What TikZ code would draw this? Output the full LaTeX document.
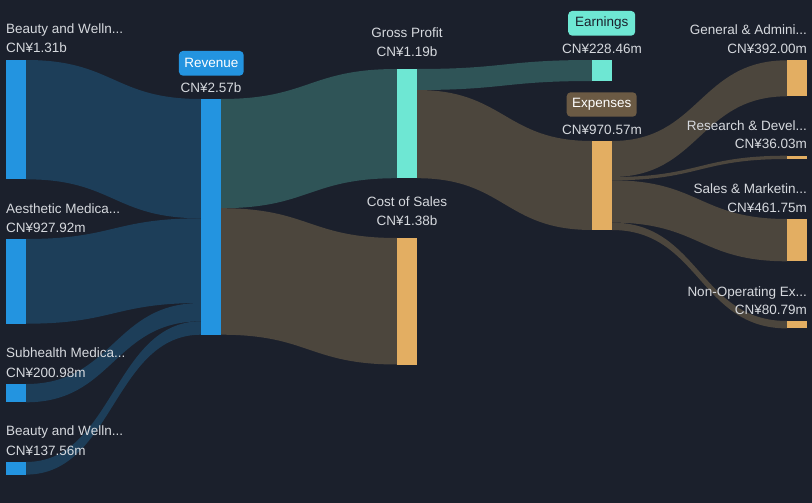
\documentclass[tikz,border=0pt]{standalone}
\usepackage{fontspec}
\setmainfont{Liberation Sans}
\usetikzlibrary{calc}
\definecolor{bg}{HTML}{1B202C}
\definecolor{flowblue}{HTML}{1D3E59}
\definecolor{barblue}{HTML}{2394E0}
\definecolor{flowteal}{HTML}{2F5457}
\definecolor{flowbrown}{HTML}{4C463D}
\definecolor{barteal}{HTML}{6EE7D3}
\definecolor{barorange}{HTML}{E3AE62}
\definecolor{expbox}{HTML}{6B5A44}
\definecolor{txt}{HTML}{D6D9DE}
\newcommand\band[5]{%
 \fill[#5] let \p1=#1, \p2=#2, \p3=#3, \p4=#4 in
 (\p1) .. controls ({(\x1+\x3)/2},\y1) and ({(\x1+\x3)/2},\y3) .. (\p3)
 -- (\p4) .. controls ({(\x1+\x3)/2},\y4) and ({(\x1+\x3)/2},\y2) .. (\p2) -- cycle;}
\begin{document}
\begin{tikzpicture}[x=1pt,y=-1pt,
  bar/.style={rectangle,draw=none,inner sep=0pt,outer sep=0pt,minimum width=20pt,anchor=north west},
  lbl/.style={text=txt,inner sep=0pt,font=\fontsize{13.5}{16}\selectfont},
  tag/.style={rectangle,rounded corners=4pt,inner sep=0pt,font=\fontsize{13.5}{16}\selectfont}]
\fill[bg] (0,0) rectangle (812,503);
\useasboundingbox (0,0) rectangle (812,503);
% bars
\node[bar,fill=barblue,minimum height=119.3pt] (b1) at (6,60) {};
\node[bar,fill=barblue,minimum height=84.7pt] (b2) at (6,239) {};
\node[bar,fill=barblue,minimum height=18.3pt] (b3) at (6,384) {};
\node[bar,fill=barblue,minimum height=12.6pt] (b4) at (6,462) {};
\node[bar,fill=barblue,minimum height=235.7pt] (rev) at (201,99) {};
\node[bar,fill=barteal,minimum height=109.2pt] (gp) at (397,69) {};
\node[bar,fill=barorange,minimum height=126.5pt] (cos) at (397,238) {};
\node[bar,fill=barteal,minimum height=21pt] (earn) at (592,60) {};
\node[bar,fill=barorange,minimum height=89pt] (exp) at (592,141) {};
\node[bar,fill=barorange,minimum height=36pt] (ga) at (787,60.3) {};
\node[bar,fill=barorange,minimum height=3.3pt] (rd) at (787,155.7) {};
\node[bar,fill=barorange,minimum height=42.3pt] (sm) at (787,219) {};
\node[bar,fill=barorange,minimum height=7.4pt] (no) at (787,321) {};
% flows
\begin{scope}[on background layer/.try]
\band{(b1.north east)}{(b1.south east)}{($(rev.north west)+(0,0)$)}{($(rev.north west)+(0,119.3)$)}{flowblue}
\band{(b2.north east)}{(b2.south east)}{($(rev.north west)+(0,119.3)$)}{($(rev.north west)+(0,204)$)}{flowblue}
\band{(b3.north east)}{(b3.south east)}{($(rev.north west)+(0,204)$)}{($(rev.north west)+(0,222.3)$)}{flowblue}
\band{(b4.north east)}{(b4.south east)}{($(rev.north west)+(0,222.3)$)}{(rev.south west)}{flowblue}
\band{(rev.north east)}{($(rev.north east)+(0,109.2)$)}{(gp.north west)}{(gp.south west)}{flowteal}
\band{($(rev.north east)+(0,109.2)$)}{(rev.south east)}{(cos.north west)}{(cos.south west)}{flowbrown}
\band{(gp.north east)}{($(gp.north east)+(0,21)$)}{(earn.north west)}{(earn.south west)}{flowteal}
\band{($(gp.north east)+(0,21)$)}{(gp.south east)}{(exp.north west)}{(exp.south west)}{flowbrown}
\band{(exp.north east)}{($(exp.north east)+(0,36)$)}{(ga.north west)}{(ga.south west)}{flowbrown}
\band{($(exp.north east)+(0,36)$)}{($(exp.north east)+(0,39.3)$)}{(rd.north west)}{(rd.south west)}{flowbrown}
\band{($(exp.north east)+(0,39.3)$)}{($(exp.north east)+(0,81.6)$)}{(sm.north west)}{(sm.south west)}{flowbrown}
\band{($(exp.north east)+(0,81.6)$)}{(exp.south east)}{(no.north west)}{(no.south west)}{flowbrown}
\end{scope}
% redraw bars on top
\foreach \n/\c in {b1/barblue,b2/barblue,b3/barblue,b4/barblue,rev/barblue,gp/barteal,cos/barorange,earn/barteal,exp/barorange,ga/barorange,rd/barorange,sm/barorange,no/barorange}
  \fill[\c] (\n.north west) rectangle (\n.south east);
% left labels
\node[lbl,anchor=base west] (l1) at (6,33.5) {Beauty and Welln...};
\node[lbl,anchor=base west] (v1) at (6,53) {CN¥1.31b};
\node[lbl,anchor=base west] (l2) at (6,213) {Aesthetic Medica...};
\node[lbl,anchor=base west] (v2) at (6,232) {CN¥927.92m};
\node[lbl,anchor=base west] (l3) at (6,357.5) {Subhealth Medica...};
\node[lbl,anchor=base west] (v3) at (6,377) {CN¥200.98m};
\node[lbl,anchor=base west] (l4) at (6,435.5) {Beauty and Welln...};
\node[lbl,anchor=base west] (v4) at (6,455) {CN¥137.56m};
% revenue
\node[tag,fill=barblue,text=white,minimum width=64.7pt,minimum height=24.7pt] (revtag) at (211.3,63.3) {Revenue};
\node[lbl,anchor=base] (vrev) at (211,92.5) {CN¥2.57b};
% middle
\node[lbl,anchor=base] (lgp) at (407,37.3) {Gross Profit};
\node[lbl,anchor=base] (vgp) at (407,56.7) {CN¥1.19b};
\node[lbl,anchor=base] (lcos) at (407,206.5) {Cost of Sales};
\node[lbl,anchor=base] (vcos) at (407,225.5) {CN¥1.38b};
\node[tag,fill=barteal,text=bg,minimum width=67pt,minimum height=24.7pt] (earntag) at (601.7,23.3) {Earnings};
\node[lbl,anchor=base] (vearn) at (602,53.3) {CN¥228.46m};
\node[tag,fill=expbox,text=white,minimum width=70pt,minimum height=24.4pt] (exptag) at (601.7,104.5) {Expenses};
\node[lbl,anchor=base] (vexp) at (602,134.3) {CN¥970.57m};
% right labels
\node[lbl,anchor=base east] (lga) at (807,34.3) {General \& Admini...};
\node[lbl,anchor=base east] (vga) at (807,53.3) {CN¥392.00m};
\node[lbl,anchor=base east] (lrd) at (807,130) {Research \& Devel...};
\node[lbl,anchor=base east] (vrd) at (807,149) {CN¥36.03m};
\node[lbl,anchor=base east] (lsm) at (807,193) {Sales \& Marketin...};
\node[lbl,anchor=base east] (vsm) at (807,212) {CN¥461.75m};
\node[lbl,anchor=base east] (lno) at (807,296) {Non-Operating Ex...};
\node[lbl,anchor=base east] (vno) at (807,314.5) {CN¥80.79m};
\end{tikzpicture}
\end{document}
